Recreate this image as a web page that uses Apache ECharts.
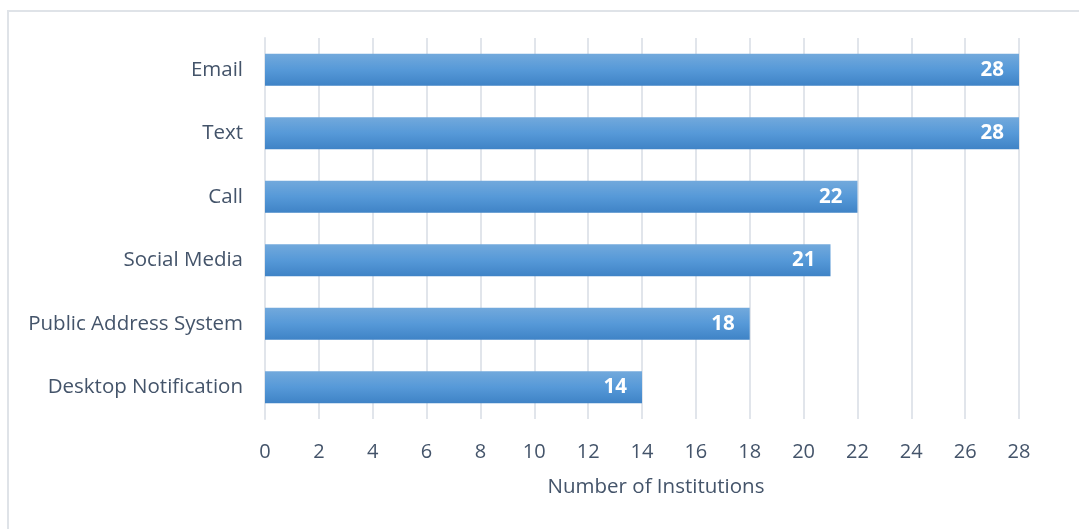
<!DOCTYPE html>
<html>
<head>
<meta charset="utf-8">
<script src="https://cdn.jsdelivr.net/npm/echarts@6/dist/echarts.min.js"></script>
<style>html,body{margin:0;padding:0;background:#fff}#c{width:1079px;height:529px}</style>
</head>
<body>
<div id="c"></div>
<script>
const categories = ["Desktop Notification", "Public Address System", "Social Media", "Call", "Text", "Email"];
const values = [14, 18, 21, 22, 28, 28];
const xTicks = [0, 28, 2];
const axisName = "Number of Institutions";

const chart = echarts.init(document.getElementById('c'), null, {renderer: 'canvas'});
const txt = '#44546a';
const font = 'Open Sans';
chart.setOption({
  animation: false,
  graphic: [{
    type: 'rect', left: 7, top: 10, z: -1,
    shape: {width: 1200, height: 700},
    style: {fill: '#fff', stroke: '#dfe3e8', lineWidth: 2}
  }],
  grid: {left: 265, right: 60, top: 38, bottom: 110},
  xAxis: {
    type: 'value', min: xTicks[0], max: xTicks[1], interval: xTicks[2],
    axisLine: {show: false}, axisTick: {show: false},
    splitLine: {show: true, lineStyle: {color: '#e1e5eb', width: 2}},
    axisLabel: {color: txt, fontFamily: font, fontSize: 20, margin: 23},
    name: axisName, nameLocation: 'middle', nameGap: 58,
    nameTextStyle: {color: txt, fontFamily: font, fontSize: 20.5, padding: [0, 0, 0, 28]}
  },
  yAxis: {
    type: 'category', data: categories,
    axisLine: {show: true, lineStyle: {color: '#e1e5eb', width: 2}},
    axisTick: {show: false},
    axisLabel: {color: txt, fontFamily: font, fontSize: 20.5, margin: 22}
  },
  series: [{
    type: 'bar', data: values, barWidth: 32,
    itemStyle: {
      color: new echarts.graphic.LinearGradient(0, 0, 0, 1, [
        {offset: 0, color: '#72a9dc'},
        {offset: 0.5, color: '#5699d8'},
        {offset: 1, color: '#3f83c6'}
      ])
    },
    label: {
      show: true, position: 'insideRight', distance: 15,
      color: '#fff', fontFamily: font, fontWeight: 'bold', fontSize: 20.5
    }
  }]
});
</script>
</body>
</html>
